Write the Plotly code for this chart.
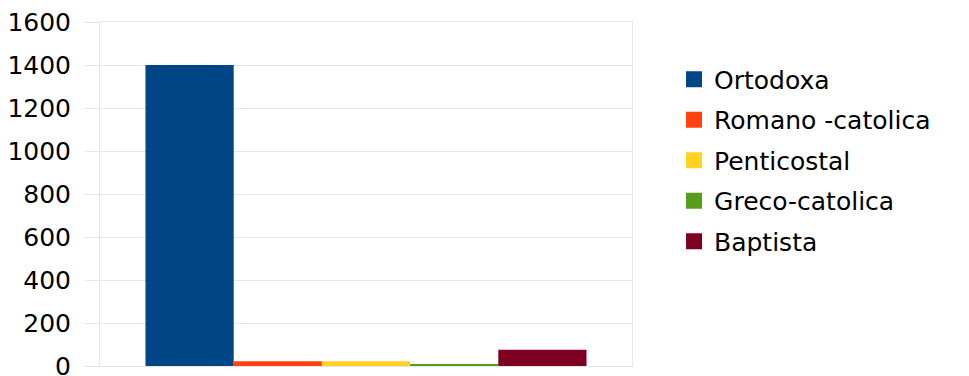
import plotly.graph_objects as go

religions = ["Ortodoxa", "Romano -catolica", "Penticostal", "Greco-catolica", "Baptista"]
values = [1400, 22, 22, 5, 76]
colors = ["#004586", "#FF420E", "#FFD320", "#579D1C", "#7E0021"]
y_ticks = [0, 200, 400, 600, 800, 1000, 1200, 1400, 1600]

fig = go.Figure()
for i, (name, val, col) in enumerate(zip(religions, values, colors)):
    fig.add_trace(go.Bar(x=[""], y=[val], name=name, marker=dict(color=col, line=dict(width=0)),
                         showlegend=False))
    fig.add_trace(go.Scatter(x=[None], y=[None], mode="markers", name=name,
                             marker=dict(symbol="square", size=21, color=col),
                             legendgroup=f"g{i}", showlegend=True))

grid = "#e6e6e6"
fig.update_layout(
    width=969, height=376,
    margin=dict(l=100, r=337, t=22, b=10, autoexpand=False),
    paper_bgcolor="white", plot_bgcolor="white",
    barmode="group", bargap=0.171, bargroupgap=0,
    font=dict(family="DejaVu Sans, sans-serif", size=25, color="#000000"),
    legend=dict(x=1.079, y=0.90, xanchor="left", yanchor="top",
                font=dict(size=25), tracegroupgap=5, itemsizing="trace",
                maxheight=376, bgcolor="rgba(0,0,0,0)"),
    xaxis=dict(showticklabels=False, showgrid=False, showline=True, linecolor=grid,
               mirror=True, zeroline=False, fixedrange=True, automargin=False),
    yaxis=dict(range=[0, 1600], tickvals=y_ticks, showgrid=True, gridcolor=grid,
               showline=True, linecolor=grid, mirror=True, zeroline=False,
               ticks="outside", ticklen=14, tickcolor=grid, ticklabelstandoff=9,
               ticklabeloverflow="allow", automargin=False),
)

fig.write_html("out.html")
